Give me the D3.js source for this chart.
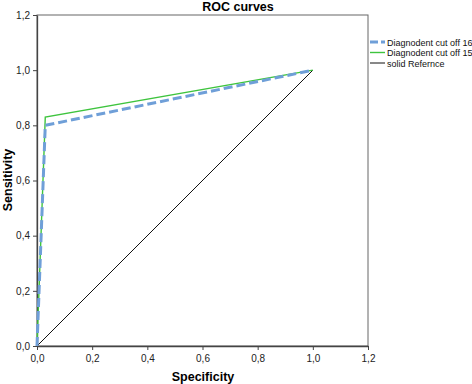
<!DOCTYPE html>
<html><head><meta charset="utf-8">
<script src="https://cdn.jsdelivr.net/npm/d3@7"></script>
<style>body{margin:0;background:#fff;}text{font-family:"Liberation Sans",Arial,sans-serif;}</style>
</head><body>
<svg id="c" width="472" height="384"></svg>
<script>
const xTicks = [0, 0.2, 0.4, 0.6, 0.8, 1.0, 1.2];
const yTicks = [0, 0.2, 0.4, 0.6, 0.8, 1.0, 1.2];
const seriesNames = ["Diagnodent cut off 16", "Diagnodent cut off 15", "solid Refernce"];
const cut16X = [0, 0.03, 1];
const cut16Y = [0, 0.80, 1];
const cut15X = [0, 0.03, 1];
const cut15Y = [0, 0.83, 1];
const refX = [0, 1];
const refY = [0, 1];

const svg = d3.select("#c");
const L = 37, R = 368, T = 15, B = 346;
const x = d3.scaleLinear().domain([0, 1.2]).range([L, R]);
const y = d3.scaleLinear().domain([0, 1.2]).range([B, T]);
const fmt = d => d3.format(".1f")(d).replace(".", ",");

// frame
svg.append("rect").attr("x", L).attr("y", T).attr("width", R - L).attr("height", B - T)
  .attr("fill", "none").attr("stroke", "#666").attr("stroke-width", 1);

const xa = svg.append("g").attr("transform", `translate(0,${B})`)
  .call(d3.axisBottom(x).tickValues(xTicks).tickFormat(fmt).tickSize(4).tickSizeOuter(0));
const ya = svg.append("g").attr("transform", `translate(${L},0)`)
  .call(d3.axisLeft(y).tickValues(yTicks).tickFormat(fmt).tickSize(4).tickSizeOuter(0));
[xa, ya].forEach(a => {
  a.select(".domain").attr("stroke", "#444").attr("stroke-width", 1.3);
  a.selectAll(".tick line").attr("stroke", "#444");
  a.selectAll("text").attr("fill", "#222").style("font-size", "10px").style("font-family", '"Liberation Sans",Arial,sans-serif');
});
xa.selectAll("text").attr("dy", "0.9em");

const line = d3.line().x(d => x(d[0])).y(d => y(d[1]));
const pts = (xs, ys) => xs.map((v, i) => [v, ys[i]]);

svg.append("path").datum(pts(refX, refY)).attr("d", line)
  .attr("fill", "none").attr("stroke", "#111").attr("stroke-width", 1);
svg.append("path").datum(pts(cut15X, cut15Y)).attr("d", line)
  .attr("fill", "none").attr("stroke", "#3ec43e").attr("stroke-width", 1.4);
svg.append("path").datum(pts(cut16X, cut16Y)).attr("d", line)
  .attr("fill", "none").attr("stroke", "#6f9fd8").attr("stroke-width", 3)
  .attr("stroke-dasharray", "9,4");

// title + axis labels
svg.append("text").attr("x", 238).attr("y", 11).attr("text-anchor", "middle")
  .style("font-size", "12.5px").style("font-weight", "bold").text("ROC curves");
svg.append("text").attr("x", 203).attr("y", 381).attr("text-anchor", "middle")
  .style("font-size", "12.5px").style("font-weight", "bold").text("Specificity");
svg.append("text").attr("transform", "translate(12,180) rotate(-90)").attr("text-anchor", "middle")
  .style("font-size", "12.5px").style("font-weight", "bold").text("Sensitivity");

// legend
const legStyles = [
  {c: "#6f9fd8", w: 3, d: "8,3"},
  {c: "#3ec43e", w: 1.4, d: null},
  {c: "#111", w: 1, d: null}
];
seriesNames.forEach((n, i) => {
  const yy = 42 + i * 10.5;
  const l = svg.append("line").attr("x1", 370).attr("x2", 385).attr("y1", yy).attr("y2", yy)
    .attr("stroke", legStyles[i].c).attr("stroke-width", legStyles[i].w);
  if (legStyles[i].d) l.attr("stroke-dasharray", legStyles[i].d);
  svg.append("text").attr("x", 387).attr("y", yy + 3.5).style("font-size", "9px").attr("fill", "#111").text(n);
});
</script>
</body></html>
